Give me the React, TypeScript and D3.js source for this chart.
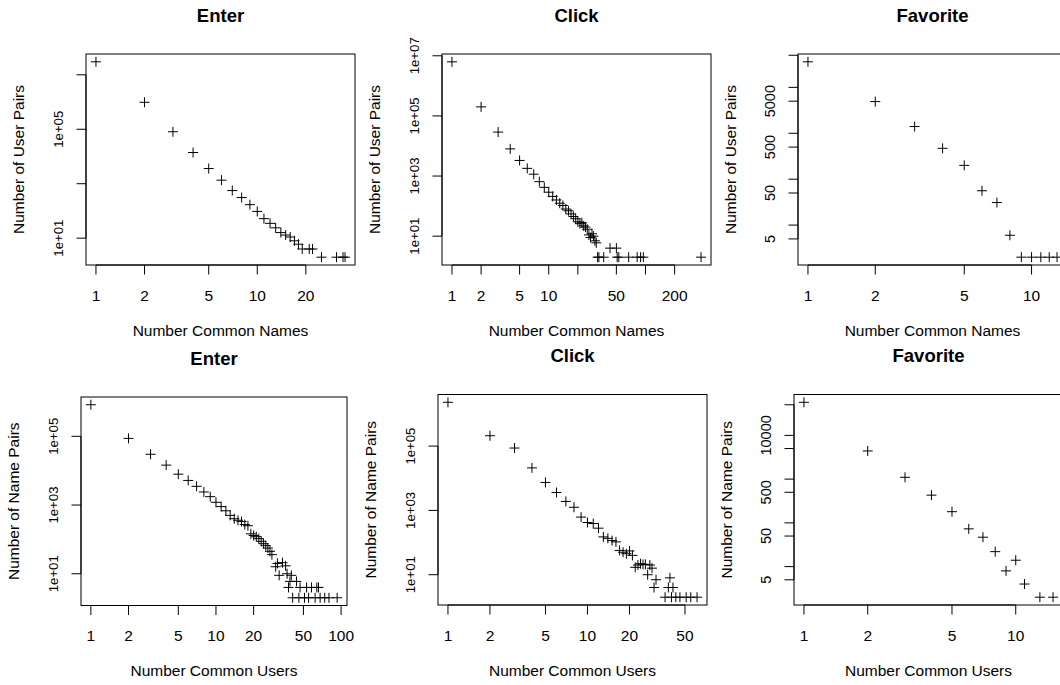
import React from 'react';
import * as d3 from 'd3';

// Enter, pairs of users sharing names
const enterNamesX = [1, 2, 3, 4, 5, 6, 7, 8, 9, 10, 11, 12, 13, 14, 15, 16, 17, 18, 19, 21, 22, 25, 31, 34, 35];
const enterNamesY = [3e7, 9.8e5, 8.1e4, 1.4e4, 3600, 1350, 560, 310, 170, 96, 52, 35, 24, 16, 13, 11, 8, 6, 4, 4, 4, 2, 2, 2, 2];

// Click, pairs of users sharing names
const clickNamesX = [1, 2, 3, 4, 5, 6, 7, 8, 9, 10, 11, 12, 13, 14, 15, 16, 17, 18, 19, 20, 21, 22, 23, 24, 25, 26, 27, 28, 29, 30, 31, 32, 33, 37, 43, 50, 51, 53, 67, 82, 89, 95, 375];
const clickNamesY = [6.3e6, 2.0e5, 2.9e4, 8000, 3300, 1800, 1150, 650, 420, 290, 210, 160, 125, 105, 80, 70, 55, 45, 38, 30, 26, 28, 22, 20, 17, 11, 9, 12, 10, 7, 6, 2, 2, 2, 4, 4, 2, 2, 2, 2, 2, 2, 2];

// Favorite, pairs of users sharing names
const favNamesX = [1, 2, 3, 4, 5, 6, 7, 8, 9, 10, 11, 12, 13];
const favNamesY = [36000, 4900, 1400, 470, 200, 56, 31, 6, 2, 2, 2, 2, 2];

// Enter, pairs of names sharing users
const enterUsersX = [1, 2, 3, 4, 5, 6, 7, 8, 9, 10, 11, 12, 13, 14, 15, 16, 17, 18, 19, 20, 21, 22, 23, 24, 25, 26, 27, 28, 30, 31, 32, 34, 36, 37, 38, 39, 40, 41, 44, 46, 47, 51, 53, 55, 58, 62, 64, 66, 68, 74, 80, 93];
const enterUsersY = [830000, 87000, 30000, 14500, 7900, 5200, 3500, 2400, 1750, 1200, 900, 680, 500, 400, 360, 330, 270, 250, 145, 130, 120, 105, 88, 75, 66, 56, 45, 36, 16, 20, 9, 21, 17, 10, 4, 6, 9, 2, 6, 2, 4, 2, 4, 2, 4, 2, 4, 4, 2, 2, 2, 2];

// Click, pairs of names sharing users
const clickUsersX = [1, 2, 3, 4, 5, 6, 7, 8, 9, 10, 11, 12, 13, 14, 15, 16, 17, 18, 19, 20, 21, 22, 23, 24, 25, 26, 27, 28, 29, 30, 31, 36, 38, 39, 40, 41, 43, 46, 51, 55, 61];
const clickUsersY = [2.3e6, 2.1e5, 87000, 21000, 7400, 3600, 1900, 1250, 620, 420, 390, 280, 150, 135, 115, 105, 57, 50, 45, 55, 40, 17, 20, 22, 21, 21, 10, 20, 16, 4, 7, 2, 4, 8, 2, 4, 2, 2, 2, 2, 2];

// Favorite, pairs of names sharing users
const favUsersX = [1, 2, 3, 4, 5, 6, 7, 8, 9, 10, 11, 13, 15];
const favUsersY = [57000, 4400, 1100, 430, 180, 73, 47, 22, 8, 14, 4, 2, 2];

const decadeTicks = [10, 1e3, 1e5, 1e7];
const fiveTicks = [5, 10, 50, 100, 500, 1000, 5000, 10000, 50000];

const panels = [
  { title: 'Enter', xlab: 'Number Common Names', ylab: 'Number of User Pairs', xs: enterNamesX, ys: enterNamesY,
    xTicks: [1, 2, 5, 10, 20], xLabels: [1, 2, 5, 10, 20], yTicks: decadeTicks, yLabels: [10, 1e5], sci: true },
  { title: 'Click', xlab: 'Number Common Names', ylab: 'Number of User Pairs', xs: clickNamesX, ys: clickNamesY,
    xTicks: [1, 2, 5, 10, 20, 50, 100, 200], xLabels: [1, 2, 5, 10, 50, 200], yTicks: decadeTicks, yLabels: decadeTicks, sci: true },
  { title: 'Favorite', xlab: 'Number Common Names', ylab: 'Number of User Pairs', xs: favNamesX, ys: favNamesY,
    xTicks: [1, 2, 5, 10], xLabels: [1, 2, 5, 10], yTicks: fiveTicks, yLabels: [5, 50, 500, 5000], sci: false },
  { title: 'Enter', xlab: 'Number Common Users', ylab: 'Number of Name Pairs', xs: enterUsersX, ys: enterUsersY,
    xTicks: [1, 2, 5, 10, 20, 50, 100], xLabels: [1, 2, 5, 10, 20, 50, 100], yTicks: [10, 1e3, 1e5], yLabels: [10, 1e3, 1e5], sci: true },
  { title: 'Click', xlab: 'Number Common Users', ylab: 'Number of Name Pairs', xs: clickUsersX, ys: clickUsersY,
    xTicks: [1, 2, 5, 10, 20, 50], xLabels: [1, 2, 5, 10, 20, 50], yTicks: [10, 1e3, 1e5], yLabels: [10, 1e3, 1e5], sci: true },
  { title: 'Favorite', xlab: 'Number Common Users', ylab: 'Number of Name Pairs', xs: favUsersX, ys: favUsersY,
    xTicks: [1, 2, 5, 10], xLabels: [1, 2, 5, 10], yTicks: fiveTicks, yLabels: [5, 50, 500, 10000], sci: false },
];

// plot regions (left, top, right, bottom)
const boxes = [
  [86, 54, 355, 265], [442, 54, 711, 265], [798, 54, 1067, 265],
  [81, 397, 347, 605.5], [438, 394.5, 707, 605], [794, 394.5, 1063, 605],
];

const FONT = '"Liberation Sans", Arial, Helvetica, sans-serif';

// R style: log range padded by 4%
function logDomain(vals: number[]) {
  const lo = Math.log10(d3.min(vals) as number);
  const hi = Math.log10(d3.max(vals) as number);
  const pad = (hi - lo) * 0.04;
  return [Math.pow(10, lo - pad), Math.pow(10, hi + pad)];
}

function sciLabel(v: number) {
  const e = Math.round(Math.log10(v));
  return `1e+${String(e).padStart(2, '0')}`;
}

function Panel({ p, box }: { p: any; box: number[] }) {
  const [l, t, r, b] = box;
  const x = d3.scaleLog().domain(logDomain(p.xs)).range([l, r]);
  const y = d3.scaleLog().domain(logDomain(p.ys)).range([b, t]);
  const tick = 9.5;
  const yFont = p.sci ? 13.2 : 14.5;
  const cx = (l + r) / 2;
  const cy = (t + b) / 2;
  const xt = p.xTicks.map((v: number) => x(v));
  const yt = p.yTicks.map((v: number) => y(v));

  return (
    <g>
      <text x={cx} y={t - 32.5} textAnchor="middle" fontWeight="bold" fontSize={18.5}>{p.title}</text>
      <rect x={l} y={t} width={r - l} height={b - t} fill="none" stroke="#000" strokeWidth={1} />

      <line x1={d3.min(xt)} x2={d3.max(xt)} y1={b} y2={b} stroke="#000" />
      {p.xTicks.map((v: number) => (
        <line key={v} x1={x(v)} x2={x(v)} y1={b} y2={b + tick} stroke="#000" />
      ))}
      {p.xLabels.map((v: number) => (
        <text key={v} x={x(v)} y={b + 35.5} textAnchor="middle" fontSize={15.5}>{v}</text>
      ))}
      <text x={cx} y={b + 70.5} textAnchor="middle" fontSize={15.5}>{p.xlab}</text>

      <line x1={l} x2={l} y1={d3.min(yt)} y2={d3.max(yt)} stroke="#000" />
      {p.yTicks.map((v: number) => (
        <line key={v} x1={l - tick} x2={l} y1={y(v)} y2={y(v)} stroke="#000" />
      ))}
      {p.yLabels.map((v: number) => (
        <text key={v} transform={`translate(${l - 28 + yFont * 0.36},${y(v)}) rotate(-90)`}
          textAnchor="middle" fontSize={yFont}>{p.sci ? sciLabel(v) : v}</text>
      ))}
      <text transform={`translate(${l - 68 + 5.5},${cy}) rotate(-90)`} textAnchor="middle" fontSize={15.5}>{p.ylab}</text>

      {p.xs.map((xv: number, i: number) => {
        const px = x(xv);
        const py = y(p.ys[i]);
        return <path key={i} d={`M${px - 5},${py}h10M${px},${py - 5}v10`} stroke="#000" strokeWidth={1} fill="none" />;
      })}
    </g>
  );
}

export default function App() {
  return (
    <svg width={1060} height={685} style={{ position: 'absolute', left: 0, top: 0, background: '#fff' }}
      fontFamily={FONT} fill="#000">
      <rect width={1060} height={685} fill="#fff" />
      {panels.map((p, i) => <Panel key={i} p={p} box={boxes[i]} />)}
    </svg>
  );
}
